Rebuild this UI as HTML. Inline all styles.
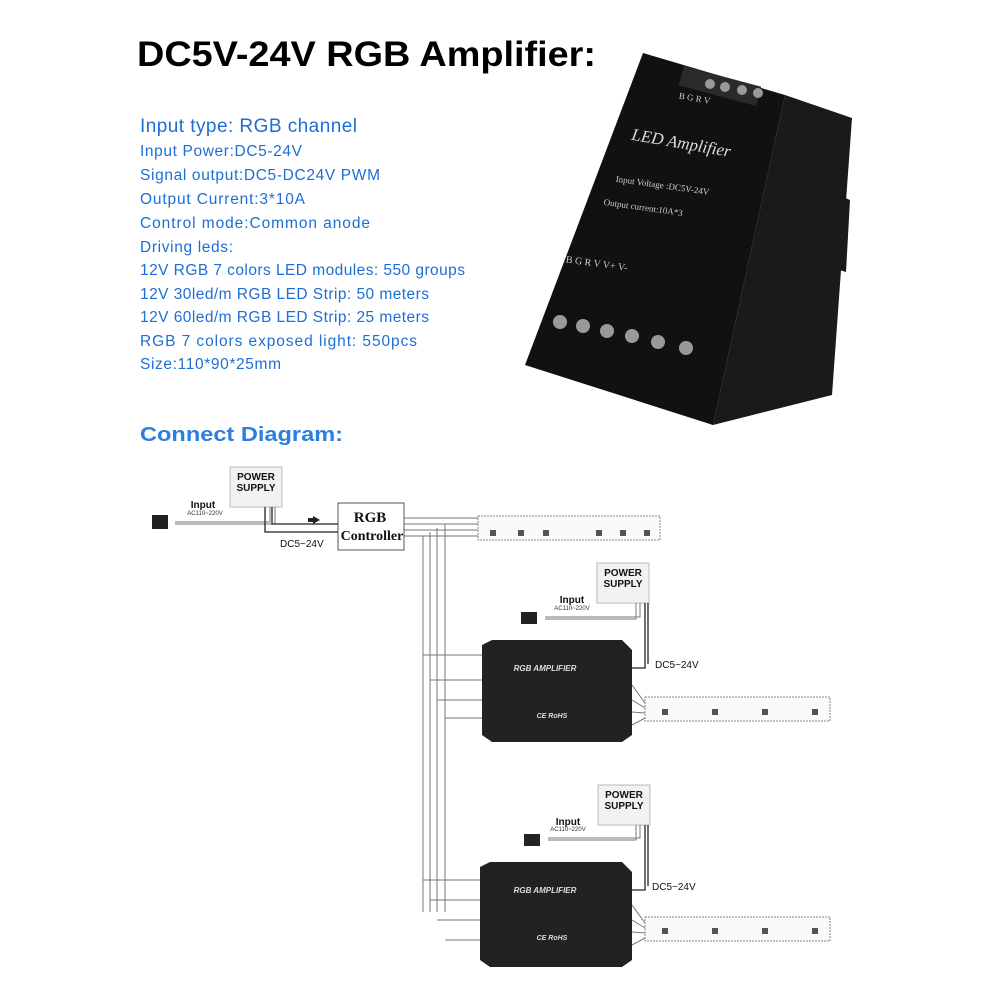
<!DOCTYPE html>
<html><head><style>body{margin:0;background:#fff}svg{display:block}</style></head><body>
<svg width="990" height="990" viewBox="0 0 990 990" xmlns="http://www.w3.org/2000/svg" font-family="Liberation Sans, sans-serif">
<rect width="990" height="990" fill="#fff"/>
<text x="137" y="66" font-size="35" font-weight="bold" fill="#000" textLength="459" lengthAdjust="spacingAndGlyphs">DC5V-24V RGB Amplifier:</text>
<g fill="#1d6ed6" font-size="15.5" lengthAdjust="spacingAndGlyphs">
<text x="140" y="132" font-size="19" textLength="217">Input type: RGB channel</text>
<text x="140" y="156" textLength="162">Input Power:DC5-24V</text>
<text x="140" y="180" textLength="240">Signal output:DC5-DC24V PWM</text>
<text x="140" y="204" textLength="165">Output Current:3*10A</text>
<text x="140" y="228" textLength="230">Control mode:Common anode</text>
<text x="140" y="252" textLength="93">Driving leds:</text>
<text x="140" y="275" textLength="325">12V RGB 7 colors LED modules: 550 groups</text>
<text x="140" y="299" textLength="289">12V 30led/m RGB LED Strip: 50 meters</text>
<text x="140" y="322" textLength="289">12V 60led/m RGB LED Strip: 25 meters</text>
<text x="140" y="346" textLength="277">RGB 7 colors exposed light: 550pcs</text>
<text x="140" y="369" textLength="141">Size:110*90*25mm</text>
</g>
<text x="140" y="441" font-size="20" font-weight="bold" fill="#2a7fe0" textLength="203" lengthAdjust="spacingAndGlyphs">Connect Diagram:</text>
<!-- device photo -->
<polygon points="785,95 852,118 832,395 713,425" fill="#1a1a1a"/>
<polygon points="838,195 850,200 846,272 833,268" fill="#1a1a1a"/>
<polygon points="643,53 785,95 713,425 525,365" fill="#111"/>
<rect x="680" y="76" width="80" height="20" fill="#2a2a2a" transform="rotate(15 720 86)"/>
<text x="630" y="150" font-size="17" fill="#ddd" font-family="Liberation Serif,serif" font-style="italic" transform="rotate(10 690 150)">LED Amplifier</text>
<text x="615" y="188" font-size="9" fill="#ccc" font-family="Liberation Serif,serif" transform="rotate(8 660 188)">Input Voltage :DC5V-24V</text>
<text x="603" y="210" font-size="9" fill="#ccc" font-family="Liberation Serif,serif" transform="rotate(8 640 210)">Output current:10A*3</text>
<text x="678" y="104" font-size="9" fill="#ccc" font-family="Liberation Serif,serif" transform="rotate(10 710 104)">B G R V</text>
<text x="565" y="270" font-size="10" fill="#ccc" font-family="Liberation Serif,serif" transform="rotate(8 620 270)">B  G  R  V  V+ V-</text>
<g fill="#999">
<circle cx="560" cy="322" r="7"/><circle cx="583" cy="326" r="7"/><circle cx="607" cy="331" r="7"/><circle cx="632" cy="336" r="7"/><circle cx="658" cy="342" r="7"/><circle cx="686" cy="348" r="7"/>
<circle cx="710" cy="84" r="5"/><circle cx="725" cy="87" r="5"/><circle cx="742" cy="90" r="5"/><circle cx="758" cy="93" r="5"/>
</g>
<!-- diagram -->
<g stroke="#777" stroke-width="1" fill="none">
<rect x="230" y="467" width="52" height="40" fill="#f2f2f2" stroke="#bbb"/>
<rect x="338" y="503" width="66" height="47" fill="#fff" stroke="#555"/>
<rect x="478" y="516" width="182" height="24" fill="#fafafa" stroke="#888" stroke-dasharray="2 1"/>
<rect x="597" y="563" width="52" height="40" fill="#f2f2f2" stroke="#bbb"/>
<rect x="598" y="785" width="52" height="40" fill="#f2f2f2" stroke="#bbb"/>
<rect x="645" y="697" width="185" height="24" fill="#fafafa" stroke="#888" stroke-dasharray="2 1"/>
<rect x="645" y="917" width="185" height="24" fill="#fafafa" stroke="#888" stroke-dasharray="2 1"/>
<path d="M175 522 H270 V507 M175 524 H275 V507"/>
<path d="M265 507 V532 H338 M272 507 V524 H338" stroke="#222" stroke-width="1.3"/>
<path d="M404 518 H478 M404 524 H478 M404 530 H478 M404 536 H478"/>
<path d="M423 536 V912 M430 532 V912 M437 528 V912 M445 524 V912"/>
<path d="M423 655 H482 M430 680 H482 M437 700 H482 M445 718 H482"/>
<path d="M423 880 H480 M430 900 H480 M437 920 H480 M445 940 H480"/>
<path d="M545 617 H640 V603 M545 619 H636 V603"/>
<path d="M645 603 V668 H632 M648 603 V664" stroke="#222" stroke-width="1.3"/>
<path d="M548 838 H640 V825 M548 840 H636 V825"/>
<path d="M645 825 V890 H632 M648 825 V886" stroke="#222" stroke-width="1.3"/>
<path d="M632 685 L645 703 M632 700 L645 708 M632 712 L645 713 M632 725 L645 718"/>
<path d="M632 905 L645 923 M632 920 L645 928 M632 932 L645 933 M632 945 L645 938"/>
</g>
<g fill="#222">
<rect x="152" y="515" width="16" height="14"/>
<rect x="521" y="612" width="16" height="12"/>
<rect x="524" y="834" width="16" height="12"/>
<polygon points="313,516 320,520 313,524"/><rect x="308" y="518" width="6" height="4"/>
<polygon points="482,645 492,640 622,640 632,650 632,735 622,742 492,742 482,735"/>
<polygon points="480,867 490,862 622,862 632,872 632,960 622,967 490,967 480,960"/>
</g>
<g fill="#555"><rect x="490" y="530" width="6" height="6"/><rect x="518" y="530" width="6" height="6"/><rect x="543" y="530" width="6" height="6"/><rect x="596" y="530" width="6" height="6"/><rect x="620" y="530" width="6" height="6"/><rect x="644" y="530" width="6" height="6"/>
<rect x="662" y="709" width="6" height="6"/><rect x="712" y="709" width="6" height="6"/><rect x="762" y="709" width="6" height="6"/><rect x="812" y="709" width="6" height="6"/>
<rect x="662" y="928" width="6" height="6"/><rect x="712" y="928" width="6" height="6"/><rect x="762" y="928" width="6" height="6"/><rect x="812" y="928" width="6" height="6"/></g>
<g font-weight="bold" font-size="10" fill="#111" text-anchor="middle">
<text x="256" y="480">POWER</text><text x="256" y="491">SUPPLY</text>
<text x="623" y="576">POWER</text><text x="623" y="587">SUPPLY</text>
<text x="624" y="798">POWER</text><text x="624" y="809">SUPPLY</text>
<text x="203" y="508">Input</text><text x="572" y="603">Input</text><text x="568" y="825">Input</text>
</g>
<g font-size="6" fill="#333" text-anchor="middle"><text x="205" y="515">AC110~220V</text><text x="572" y="610">AC110~220V</text><text x="568" y="831">AC110~220V</text></g>
<g font-family="Liberation Serif,serif" font-weight="bold" font-size="15" fill="#111" text-anchor="middle">
<text x="370" y="522">RGB</text><text x="372" y="540" font-size="14">Controller</text></g>
<g font-size="10" fill="#111"><text x="280" y="547">DC5~24V</text><text x="655" y="668">DC5~24V</text><text x="652" y="890">DC5~24V</text></g>
<g font-size="8" font-weight="bold" font-style="italic" fill="#ddd" text-anchor="middle">
<text x="545" y="671">RGB AMPLIFIER</text><text x="545" y="893">RGB AMPLIFIER</text>
<text x="552" y="718" font-size="7">CE RoHS</text><text x="552" y="940" font-size="7">CE RoHS</text></g>
</svg>
</body></html>
